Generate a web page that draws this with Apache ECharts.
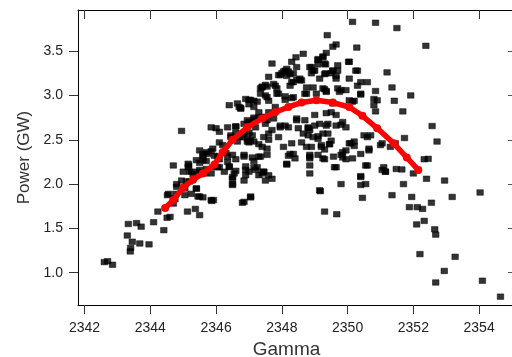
<!DOCTYPE html>
<html>
<head>
<meta charset="utf-8">
<script src="https://cdn.jsdelivr.net/npm/echarts@6/dist/echarts.min.js"></script>
<style>
  html, body { margin: 0; padding: 0; background: #fff; }
  #main { width: 512px; height: 357px; }
</style>
</head>
<body>
<div id="main"></div>
<script>
// tick labels
const gammaTicks = [2342, 2344, 2346, 2348, 2350, 2352, 2354];
const powerTicks = [1.0, 1.5, 2.0, 2.5, 3.0, 3.5];

// measured shots: [gamma, power in GW]
const shots = [
  [2342.6,1.12],[2342.7,1.13],[2342.85,1.09],
  [2343.33,1.55],[2343.58,1.56],[2343.72,1.52],[2343.3,1.42],[2343.45,1.35],[2343.68,1.33],[2343.96,1.32],[2343.4,1.28],[2343.39,1.24],
  [2344.1,1.57],[2344.41,1.48],[2344.23,1.69],[2344.51,1.62],[2344.6,1.63],[2344.52,1.875],[2344.7,1.78],[2344.7,1.84],[2344.77,1.89],
  [2345.13,1.69],[2345.37,1.72],[2345.5,1.65],[2345.87,1.81],[2345.92,1.82],[2345.25,1.89],[2345.45,1.86],[2345.6,1.85],[2345.4,1.95],
  [2344.8,2.0],[2345.0,1.96],[2345.2,2.03],[2346.5,2.0],[2346.8,1.79],[2347.05,1.85],[2346.5,2.06],
  [2349.3,1.69],[2349.67,1.66],[2350.45,1.845],[2351.35,1.875],[2351.95,1.855],[2351.88,1.74],[2352.12,1.74],[2352.28,1.72],[2352.55,1.79],
  [2352.33,1.585],[2352.1,1.545],[2352.65,1.49],[2352.68,1.43],[2353.18,1.855],[2352.2,1.21],[2353.27,1.18],[2352.94,1.02],[2352.68,0.89],
  [2354.1,0.91],[2354.65,0.73],[2349.17,1.92],[2349.8,2.0],[2350.4,2.08],[2350.4,1.99],[2350.55,2.0],[2351.7,2.0],[2352.4,2.06],[2352.95,2.04],[2354.03,1.905],
  [2351.5,3.76],[2352.38,3.56],[2351.35,3.09],[2351.92,3.0],[2351.42,2.94],[2351.68,2.82],[2352.57,2.655],[2352.72,2.48],[2351.73,2.52],[2351.45,2.46],
  [2352.33,2.28],[2352.45,2.285],[2351.48,2.17],[2351.65,2.165],[2352.0,2.12],
  [2350.15,3.83],[2350.85,3.82],[2349.38,3.68],[2349.65,3.575],[2349.55,3.55],[2349.35,3.48],[2349.25,3.44],[2349.1,3.41],[2348.65,3.47],[2348.43,3.43],
  [2348.85,3.32],[2348.95,3.28],[2349.33,3.35],[2349.33,3.25],[2349.55,3.28],[2349.65,3.22],[2350.03,3.38],[2350.28,3.54],[2350.3,3.28],[2350.4,3.15],
  [2350.6,3.15],[2351.2,3.26],[2350.85,3.05],[2350.9,2.945],[2350.8,2.89],[2350.85,2.82],[2350.05,2.945],[2350.2,2.94],[2350.4,3.01],[2349.95,3.06],
  [2349.7,3.08],[2349.3,3.07],[2349.05,3.02],[2348.55,3.17],[2348.25,3.11],[2347.95,3.23],[2348.05,3.27],[2348.2,3.27],[2347.6,3.21],[2347.35,3.08],
  [2347.5,3.12],[2347.75,3.13],[2348.45,3.18],[2347.15,2.94],[2347.55,2.98],[2347.85,3.02],[2348.35,2.98],[2348.7,3.02],[2348.1,2.95],
  [2348.45,2.74],[2347.95,2.64],[2348.1,2.66],[2348.2,2.64],[2347.55,2.72],[2347.7,2.61],[2347.3,2.81],[2347.1,2.68],[2347.05,2.49],[2347.45,2.53],
  [2347.6,2.5],[2347.4,2.42],[2347.55,2.33],[2347.3,2.31],[2347.25,2.19],[2347.4,2.12],[2348.8,2.63],[2348.65,2.57],[2348.8,2.55],[2348.9,2.42],
  [2348.85,2.33],[2348.85,2.21],[2349.0,2.78],[2349.15,2.68],[2349.35,2.66],[2349.25,2.57],[2349.1,2.54],[2349.4,2.57],[2349.35,2.8],[2349.5,2.81],
  [2349.65,2.66],[2349.8,2.67],[2349.95,2.64],[2349.2,2.42],[2349.45,2.45],[2349.57,2.31],[2349.3,2.28],[2349.65,2.19],[2349.85,2.36],[2349.95,2.38],
  [2349.85,2.3],[2350.05,2.46],[2350.2,2.48],[2350.2,2.43],[2350.4,2.34],[2350.65,2.4],[2350.6,2.53],[2350.5,2.55],[2351.05,2.46],[2351.3,2.42],
  [2351.05,2.16],[2351.15,2.14],[2350.6,2.21],[2350.4,2.09],[2348.15,2.22],[2348.2,2.32],[2348.05,2.42],[2347.9,2.53],[2348.85,2.12],[2347.0,2.14],
  [2349.15,1.93],[2349.6,2.19],[2349.25,2.29],[2347.7,2.06],
  [2344.95,2.6],[2344.7,2.21],[2345.17,2.21],[2346.4,2.89],[2346.7,2.87],[2346.75,2.85],[2346.9,2.96],[2347.05,2.95],[2345.85,2.64],[2346.0,2.63],
  [2346.35,2.64],[2346.6,2.65],[2346.45,2.53],[2346.65,2.48],[2346.95,2.51],[2347.1,2.55],[2347.0,2.7],[2347.15,2.73],[2346.05,2.31],[2346.3,2.35],
  [2346.35,2.25],[2345.9,2.19],[2345.6,2.34],[2345.4,2.27],[2345.7,2.26],[2345.5,2.16],[2345.85,2.12],[2346.85,2.33],[2347.1,2.3],[2347.2,2.16],
  [2346.9,2.2],[2346.55,2.12],[2346.1,2.59],[2346.7,2.53],[2346.85,2.56],[2347.0,2.58],[2347.15,2.48],[2347.0,2.47],[2347.3,2.45],[2347.55,2.4],
  [2347.35,2.31],[2346.85,2.31],[2347.15,2.26],[2347.45,2.14],[2347.5,2.04],[2347.3,2.1],[2346.9,2.16],[2346.85,2.04],[2346.5,2.08],[2346.5,1.99],
  [2346.25,2.14],[2346.05,2.19],[2346.4,2.2],[2345.6,2.31],[2345.7,2.36],[2345.85,2.37],[2345.5,2.38],[2345.95,2.32],[2346.1,2.28],[2346.35,2.31],
  [2346.5,2.33],[2346.6,2.28],[2345.15,2.23],[2345.2,2.14],[2345.45,2.14],[2345.65,2.12],[2345.3,2.11],[2344.95,2.04],[2345.1,2.03],[2344.8,1.97],
  [2345.05,1.95],[2345.05,1.875],[2345.4,1.95],[2345.5,1.86],[2345.85,1.82],[2344.55,1.89],[2344.75,1.83],[2347.05,1.86],[2346.85,1.8],
  [2346.95,2.72],[2347.3,2.75],[2347.5,2.68],[2347.2,2.64],[2347.6,2.57],
  [2347.0,2.9],[2347.15,2.87],[2347.35,3.02],[2347.55,3.1],[2347.4,3.1],[2347.8,3.11],[2348.0,3.25],[2348.15,3.22],[2348.35,3.25],[2348.3,3.15],
  [2348.6,3.17],[2347.9,3.02],[2348.1,2.99],[2348.3,2.97],[2347.6,2.94],[2347.8,2.87],[2347.6,2.81],[2347.4,2.76],[2347.15,2.75],[2346.85,2.68],
  [2346.6,2.65],[2346.45,2.55],[2346.6,2.58],[2346.8,2.53],[2346.95,2.48],[2346.2,2.44],[2346.1,2.47],[2345.9,2.4],[2345.75,2.34],[2345.6,2.27],
  [2345.5,2.24],[2345.15,2.19],[2345.0,2.14],[2345.25,2.14],[2345.7,2.17],[2346.1,2.19],[2346.4,2.19],[2346.6,2.15],[2346.9,2.1],[2347.15,2.19],
  [2347.45,2.14],[2347.6,2.1],[2348.15,2.23],[2348.35,2.34],[2348.75,2.42],[2348.85,2.29],[2349.1,2.33],[2349.5,2.49],[2349.1,2.51],[2349.3,2.39],
  [2348.85,2.61],[2348.5,2.63],[2349.0,2.66],[2349.4,2.68],[2349.65,2.78],[2349.85,2.7],[2349.55,2.91],[2349.35,3.04],[2349.8,3.06],[2348.95,3.09],
  [2348.75,3.02],[2349.15,3.19],[2349.3,3.24],[2349.55,3.28],[2349.7,3.34],[2348.9,3.32],[2349.1,3.35],[2348.45,3.32],[2348.15,3.3],[2348.3,3.38],
  [2347.7,3.36],[2349.25,3.43],[2349.1,3.4],[2350.05,3.38],[2349.3,3.36],[2349.5,3.25],[2349.7,3.28],[2349.65,3.19],[2350.25,3.28],
  [2350.3,3.11],[2350.05,3.19],[2350.8,2.96],[2350.15,2.93],[2350.4,3.02],[2349.75,3.04],[2349.35,3.05],[2349.25,3.08],[2348.1,3.28],[2348.25,3.24],
  [2347.9,3.23],[2348.35,3.15],[2348.55,3.19],[2348.9,3.25],[2349.0,3.28],[2348.75,3.09],[2347.85,3.08],[2347.4,3.09],[2346.65,2.91],[2346.75,2.86],
  [2347.25,2.93],[2347.0,2.95],[2347.5,3.0],[2347.75,2.74],[2347.95,2.66],[2348.45,2.72],[2348.7,2.72],[2348.8,2.64],[2348.95,2.53],[2348.6,2.47],
  [2348.3,2.46],[2348.25,2.34],[2348.4,2.29],[2348.85,2.31],[2349.2,2.44],[2349.45,2.45],[2349.8,2.33],[2349.95,2.28],[2350.15,2.29],[2350.1,2.46],
  [2350.65,2.38],[2350.55,2.21],[2351.1,2.19],[2350.7,2.55],[2351.0,2.44],[2351.15,2.14]
];

// averaged curve (red)
const fitGamma = [2344.45, 2344.7, 2345.0, 2345.3, 2345.6, 2345.95, 2346.2, 2346.5, 2346.95, 2347.4, 2347.8,
  2348.2, 2348.6, 2349.05, 2349.55, 2350.05, 2350.45, 2350.9, 2351.4, 2351.8, 2352.15];
const fitPower = [1.73, 1.82, 1.96, 2.05, 2.12, 2.22, 2.36, 2.5, 2.64, 2.74, 2.81,
  2.87, 2.92, 2.945, 2.92, 2.87, 2.77, 2.63, 2.46, 2.3, 2.16];

const gammaMin = 2341.8, gammaMax = 2355;
const powerMin = 0.636, powerMax = 3.964;

const chart = echarts.init(document.getElementById('main'), null, { renderer: 'canvas' });

const font = 'Liberation Sans, Arial, sans-serif';
const axisLine = { show: true, lineStyle: { color: '#000', width: 1 } };

const option = {
  backgroundColor: '#fff',
  animation: false,
  grid: { left: 78, right: 0, top: 10, bottom: 52, containLabel: false, outerBoundsMode: 'none' },
  xAxis: [
    {
      type: 'value', position: 'bottom', min: gammaMin, max: gammaMax,
      name: 'Gamma', nameLocation: 'middle', nameGap: 35,
      nameTextStyle: { fontFamily: font, fontSize: 19, color: '#333', padding: [0, 17, 0, 0] },
      axisLine: axisLine,
      axisTick: { show: true, inside: false, length: 9, customValues: gammaTicks, lineStyle: { color: '#333' } },
      axisLabel: { customValues: gammaTicks, margin: 16, fontFamily: font, fontSize: 14, color: '#222',
        formatter: (v) => String(Math.round(v)) },
      splitLine: { show: false }
    },
    {
      type: 'value', position: 'top', min: gammaMin, max: gammaMax,
      axisLine: axisLine,
      axisTick: { show: true, inside: true, length: 9, customValues: gammaTicks, lineStyle: { color: '#333' } },
      axisLabel: { show: false },
      splitLine: { show: false }
    }
  ],
  yAxis: [
    {
      type: 'value', position: 'left', min: powerMin, max: powerMax,
      name: 'Power (GW)', nameLocation: 'middle', nameGap: 45,
      nameTextStyle: { fontFamily: font, fontSize: 17, color: '#333' },
      axisLine: axisLine,
      axisTick: { show: true, inside: false, length: 9, customValues: powerTicks, lineStyle: { color: '#333' } },
      axisLabel: { customValues: powerTicks, margin: 15, fontFamily: font, fontSize: 14, color: '#222',
        formatter: (v) => v.toFixed(1) },
      splitLine: { show: false }
    },
    {
      type: 'value', position: 'right', min: powerMin, max: powerMax,
      axisLine: { show: false },
      axisTick: { show: true, inside: true, length: 4, customValues: powerTicks, lineStyle: { color: '#555' } },
      axisLabel: { show: false },
      splitLine: { show: false }
    }
  ],
  series: [
    {
      type: 'scatter',
      data: shots,
      symbol: 'rect',
      symbolSize: [6.5, 5.5],
      itemStyle: { color: '#000', borderColor: '#000', borderWidth: 0.6 },
      z: 2
    },
    {
      type: 'line',
      data: fitGamma.map((g, i) => [g, fitPower[i]]),
      symbol: 'circle',
      symbolSize: 8,
      showSymbol: true,
      lineStyle: { color: '#f00', width: 5.5 },
      itemStyle: { color: '#f00' },
      z: 3
    }
  ]
};

chart.setOption(option);
</script>
</body>
</html>
